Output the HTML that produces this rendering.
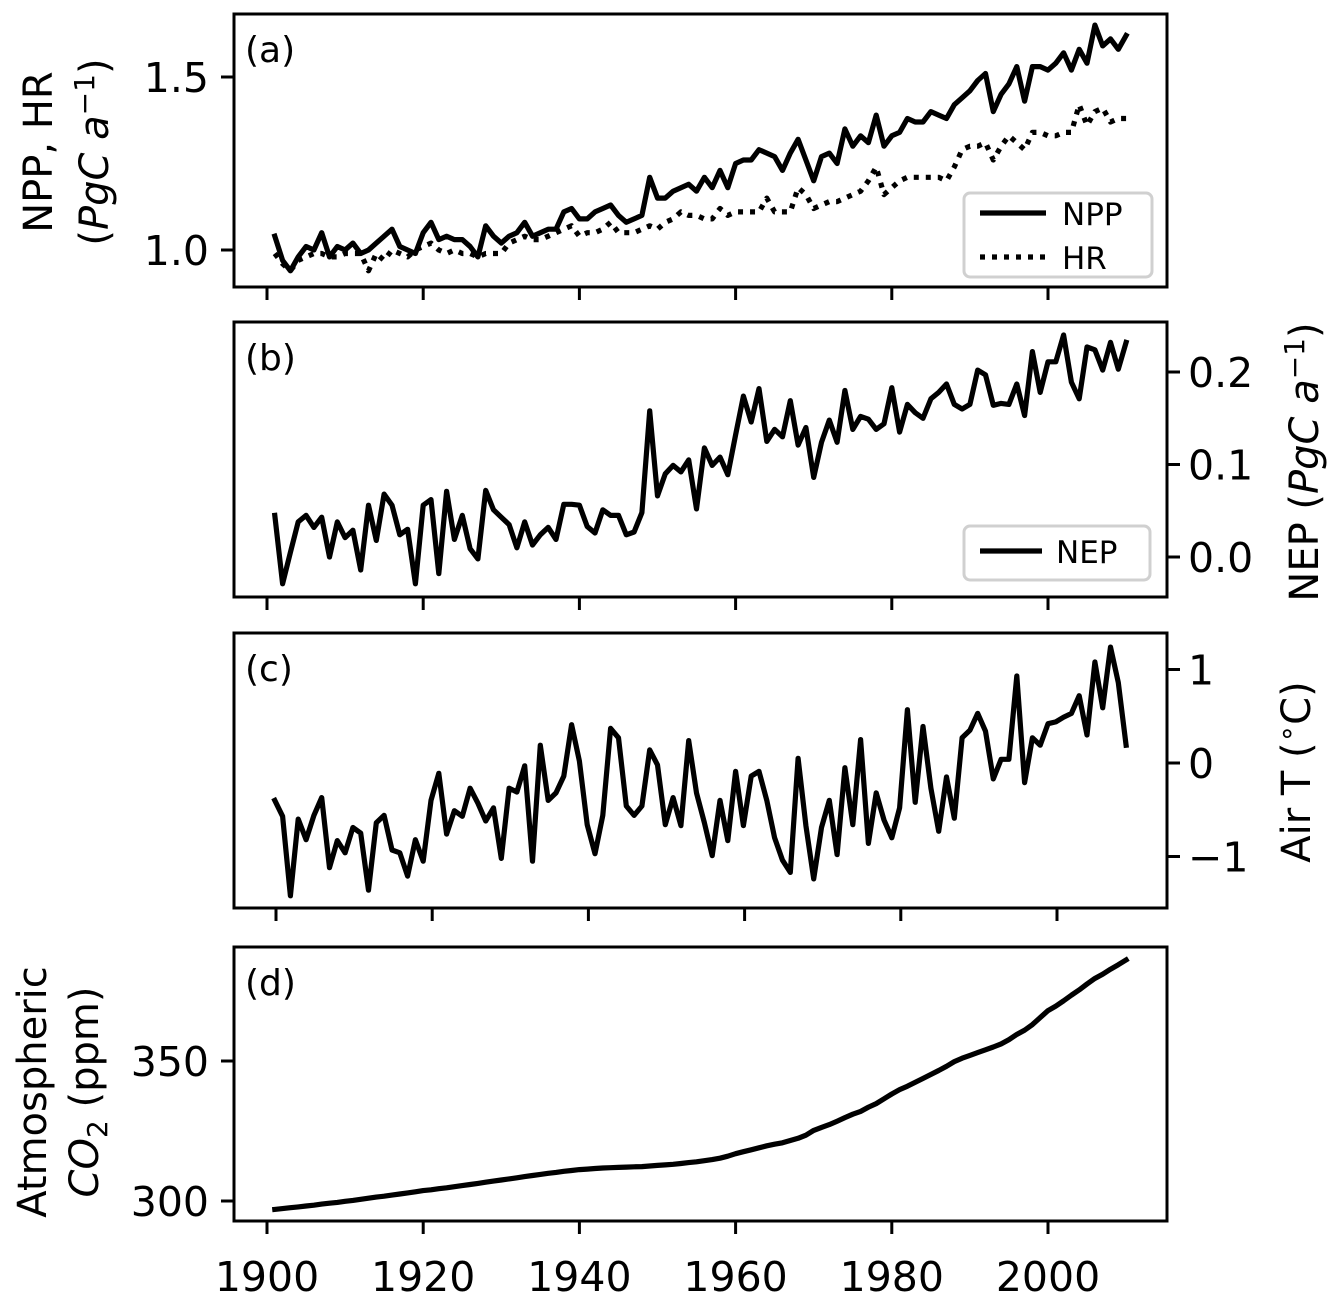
<!DOCTYPE html>
<html><head><meta charset="utf-8"><style>
html,body{margin:0;padding:0;background:#fff}
svg{display:block}
text{font-family:"DejaVu Sans","Liberation Sans",sans-serif;fill:#000}
</style></head><body>
<svg id="fig" width="1338" height="1297" viewBox="0 0 1338 1297" xmlns="http://www.w3.org/2000/svg"></svg>
<script>
const years=[];for(let y=1901;y<=2010;y++)years.push(y);
const nppValues=[1.04,0.97,0.94,0.98,1.01,1.00,1.05,0.98,1.01,1.00,
1.02,0.99,1.00,1.02,1.04,1.06,1.01,1.00,0.99,1.05,
1.08,1.03,1.04,1.03,1.03,1.01,0.98,1.07,1.04,1.02,
1.04,1.05,1.08,1.04,1.05,1.06,1.06,1.11,1.12,1.09,
1.09,1.11,1.12,1.13,1.10,1.08,1.09,1.10,1.21,1.15,
1.15,1.17,1.18,1.19,1.17,1.21,1.18,1.23,1.18,1.25,
1.26,1.26,1.29,1.28,1.27,1.23,1.28,1.32,1.26,1.20,
1.27,1.28,1.25,1.35,1.30,1.33,1.31,1.39,1.30,1.33,
1.34,1.38,1.37,1.37,1.40,1.39,1.38,1.42,1.44,1.46,
1.49,1.51,1.40,1.45,1.48,1.53,1.43,1.53,1.53,1.52,
1.54,1.57,1.52,1.58,1.54,1.65,1.59,1.61,1.58,1.62];
const hrValues=[0.99,0.96,0.94,0.97,0.98,0.99,0.99,0.98,0.98,0.99,
0.99,0.99,0.94,0.99,0.97,1.00,0.99,0.98,1.00,1.01,
1.02,1.00,0.99,1.00,0.99,0.99,0.98,0.99,0.99,0.99,
1.02,1.03,1.04,1.03,1.03,1.04,1.05,1.06,1.07,1.04,
1.05,1.05,1.06,1.08,1.05,1.05,1.05,1.06,1.07,1.06,
1.08,1.09,1.11,1.10,1.10,1.09,1.09,1.12,1.10,1.11,
1.11,1.11,1.11,1.15,1.11,1.11,1.11,1.18,1.16,1.12,
1.13,1.14,1.14,1.15,1.16,1.17,1.20,1.24,1.16,1.18,
1.20,1.21,1.21,1.21,1.21,1.21,1.20,1.24,1.29,1.30,
1.30,1.31,1.26,1.30,1.33,1.31,1.29,1.34,1.34,1.33,
1.33,1.34,1.34,1.42,1.36,1.40,1.41,1.37,1.38,1.38];
const nepValues=[.045,-.029,.005,.038,.045,.032,.043,.000,.038,.021,
.029,-.014,.056,.018,.068,.056,.024,.030,-.029,.056,
.062,-.018,.071,.019,.045,.009,-.002,.072,.051,.043,
.035,.010,.038,.013,.024,.032,.019,.057,.057,.056,
.033,.026,.051,.045,.045,.024,.027,.048,.158,.066,
.090,.099,.092,.105,.052,.118,.099,.108,.089,.132,
.174,.146,.182,.125,.138,.130,.169,.121,.140,.086,
.124,.148,.124,.180,.138,.152,.149,.138,.144,.183,
.135,.165,.156,.150,.171,.178,.187,.165,.160,.165,
.202,.197,.164,.166,.165,.187,.153,.222,.178,.211,
.211,.240,.189,.171,.227,.224,.202,.232,.203,.232];
const tempValues=[-0.40,-0.57,-1.42,-0.60,-0.82,-0.56,-0.37,-1.12,-0.83,-0.96,
-0.69,-0.75,-1.36,-0.64,-0.56,-0.93,-0.96,-1.21,-0.82,-1.05,
-0.40,-0.11,-0.76,-0.51,-0.57,-0.27,-0.43,-0.62,-0.48,-1.02,
-0.27,-0.31,-0.03,-1.05,0.19,-0.40,-0.32,-0.14,0.41,0.02,
-0.66,-0.97,-0.56,0.37,0.27,-0.46,-0.56,-0.46,0.14,-0.02,
-0.66,-0.37,-0.67,0.24,-0.32,-0.64,-0.99,-0.40,-0.83,-0.09,
-0.67,-0.14,-0.09,-0.40,-0.80,-1.04,-1.17,0.05,-0.67,-1.24,
-0.69,-0.40,-0.98,-0.05,-0.66,0.25,-0.86,-0.32,-0.61,-0.80,
-0.48,0.57,-0.42,0.39,-0.27,-0.73,-0.15,-0.59,0.27,0.35,
0.53,0.34,-0.17,0.04,0.04,0.93,-0.21,0.27,0.19,0.42,
0.44,0.49,0.53,0.72,0.30,1.08,0.59,1.24,0.86,0.19];
const co2Values=[297.0,297.3,297.6,297.9,298.2,298.5,298.9,299.2,299.5,299.9,
300.2,300.6,301.0,301.4,301.7,302.1,302.5,302.9,303.3,303.7,
304.0,304.4,304.7,305.1,305.5,305.9,306.3,306.7,307.1,307.5,
307.9,308.3,308.7,309.1,309.5,309.9,310.2,310.6,310.9,311.2,
311.4,311.6,311.8,311.9,312.0,312.1,312.2,312.3,312.5,312.7,
312.9,313.1,313.4,313.7,314.0,314.4,314.8,315.3,316.0,316.9,
317.6,318.3,319.0,319.7,320.3,320.8,321.6,322.4,323.5,325.2,
326.3,327.3,328.5,329.8,331.0,332.0,333.5,334.8,336.5,338.2,
339.8,341.0,342.4,343.8,345.2,346.6,348.1,349.8,351.0,352.0,
353.0,354.0,355.0,356.1,357.6,359.5,361.0,363.0,365.5,368.0,
369.6,371.5,373.5,375.4,377.5,379.5,381.0,382.8,384.4,386.1];
const xTickYears=[1900,1920,1940,1960,1980,2000];
const aTicks=[1.0,1.5], aTickLabels=["1.0","1.5"];
const bTicks=[0,0.1,0.2], bTickLabels=["0.0","0.1","0.2"];
const cTicks=[-1,0,1], cTickLabels=["\u22121","0","1"];
const dTicks=[300,350], dTickLabels=["300","350"];

const NS="http://www.w3.org/2000/svg";
const svg=document.getElementById('fig');
function mk(tag,attrs,parent,txt){const e=document.createElementNS(NS,tag);for(const k in attrs)e.setAttribute(k,attrs[k]);if(txt!==undefined)e.textContent=txt;(parent||svg).appendChild(e);return e;}
const X0=234,X1=1167,TF=41,LW=5.2;
const xs=yr=>267+(yr-1900)*7.81;
const panels=[
 {id:'a',top:14,bot:287,y:v=>250-(v-1.0)*346},
 {id:'b',top:322,bot:597,y:v=>557-v*925},
 {id:'c',top:633,bot:908,y:v=>763-v*93.5},
 {id:'d',top:947,bot:1221,y:v=>1201-(v-300)*2.8}
];
function line(p,vals,name,dash){
  let d='';vals.forEach((v,i)=>{d+=(i?'L':'M')+xs(years[i]).toFixed(1)+','+p.y(v).toFixed(1);});
  const e=mk('path',{d:d,fill:'none',stroke:'#000','stroke-width':LW,'stroke-linejoin':'round','stroke-linecap':dash?'butt':'square'});
  if(dash)e.setAttribute('stroke-dasharray',dash);
  
  
}
panels.forEach(p=>{
  const g=mk('g',{});
  
  
  const off=(p.id==='c')?9:0;
  xTickYears.forEach(yr=>{
    const t=mk('line',{x1:xs(yr)+off,x2:xs(yr)+off,y1:p.bot,y2:p.bot+13,stroke:'#000','stroke-width':3},g);
    
    
    if(p.id==='d'){
      const l=mk('text',{x:xs(yr),y:1291,'text-anchor':'middle','font-size':TF},g,String(yr));
      
      
    }
  });
});
function yTicks(p,vals,labels,right){
  vals.forEach((v,i)=>{
    const y=p.y(v);
    const t=right?mk('line',{x1:X1,x2:X1+13,y1:y,y2:y,stroke:'#000','stroke-width':3}):mk('line',{x1:X0-13,x2:X0,y1:y,y2:y,stroke:'#000','stroke-width':3});
    
    
    const l=right?mk('text',{x:X1+21,y:y+15,'font-size':TF},svg,labels[i]):mk('text',{x:X0-25,y:y+15,'text-anchor':'end','font-size':TF},svg,labels[i]);
    
    
  });
}
yTicks(panels[0],aTicks,aTickLabels,false);
yTicks(panels[1],bTicks,bTickLabels,true);
yTicks(panels[2],cTicks,cTickLabels,true);
yTicks(panels[3],dTicks,dTickLabels,false);

line(panels[0],nppValues,'npp-line');
line(panels[0],hrValues,'hr-line','5,7');
line(panels[1],nepValues,'nep-line');
line(panels[2],tempValues,'air-temp-line');
line(panels[3],co2Values,'co2-line');

panels.forEach(p=>{
  const f=mk('rect',{x:X0,y:p.top,width:X1-X0,height:p.bot-p.top,fill:'none',stroke:'#000','stroke-width':3});
  
  
  const t=mk('text',{x:245,y:p.top+48,'font-family':'Liberation Sans, sans-serif','font-size':36},svg,'('+p.id+')');
  
  
});
</script>
<script>
(function(){
const NS="http://www.w3.org/2000/svg";const svg=document.getElementById('fig');
function mk(tag,attrs,txt){const e=document.createElementNS(NS,tag);for(const k in attrs)e.setAttribute(k,attrs[k]);if(txt!==undefined)e.innerHTML=txt;svg.appendChild(e);return e;}
const LG={'font-family':'Liberation Sans, sans-serif','font-size':31};
let r=mk('rect',{x:964,y:193,width:188,height:84,rx:6,fill:'#fff',stroke:'#d0d0d0','stroke-width':3});


let e=mk('line',{x1:980,x2:1046,y1:213,y2:213,stroke:'#000','stroke-width':5.2});


e=mk('text',Object.assign({x:1062,y:225},LG),'NPP');


e=mk('line',{x1:980,x2:1046,y1:257,y2:257,stroke:'#000','stroke-width':5.2,'stroke-dasharray':'5,7'});


e=mk('text',Object.assign({x:1062,y:269},LG),'HR');


r=mk('rect',{x:964,y:526,width:186,height:54,rx:6,fill:'#fff',stroke:'#d0d0d0','stroke-width':3});


e=mk('line',{x1:980,x2:1042,y1:551,y2:551,stroke:'#000','stroke-width':5.2});


e=mk('text',Object.assign({x:1056,y:563},LG),'NEP');


const F=40;
e=mk('text',{transform:'translate(52,152) rotate(-90)','text-anchor':'middle','font-size':F},'NPP, HR');


e=mk('text',{transform:'translate(108,152) rotate(-90)','text-anchor':'middle','font-size':F},'(<tspan font-style="italic">PgC a</tspan><tspan font-size="28" dy="-14">\u22121</tspan><tspan dy="14">)</tspan>');


e=mk('text',{transform:'translate(1318,462) rotate(-90)','text-anchor':'middle','font-size':F},'NEP (<tspan font-style="italic">PgC a</tspan><tspan font-size="28" dy="-14">\u22121</tspan><tspan dy="14">)</tspan>');


e=mk('text',{transform:'translate(1310,772) rotate(-90)','text-anchor':'middle','font-size':F},'Air T (<tspan font-size="28" dy="-14">\u2218</tspan><tspan dy="14">C)</tspan>');


e=mk('text',{transform:'translate(46,1092) rotate(-90)','text-anchor':'middle','font-size':F},'Atmospheric');


e=mk('text',{transform:'translate(98,1092) rotate(-90)','text-anchor':'middle','font-size':F},'<tspan font-style="italic">CO</tspan><tspan font-size="28" dy="9">2</tspan><tspan dy="-9"> (ppm)</tspan>');


})();
</script>
</body></html>
